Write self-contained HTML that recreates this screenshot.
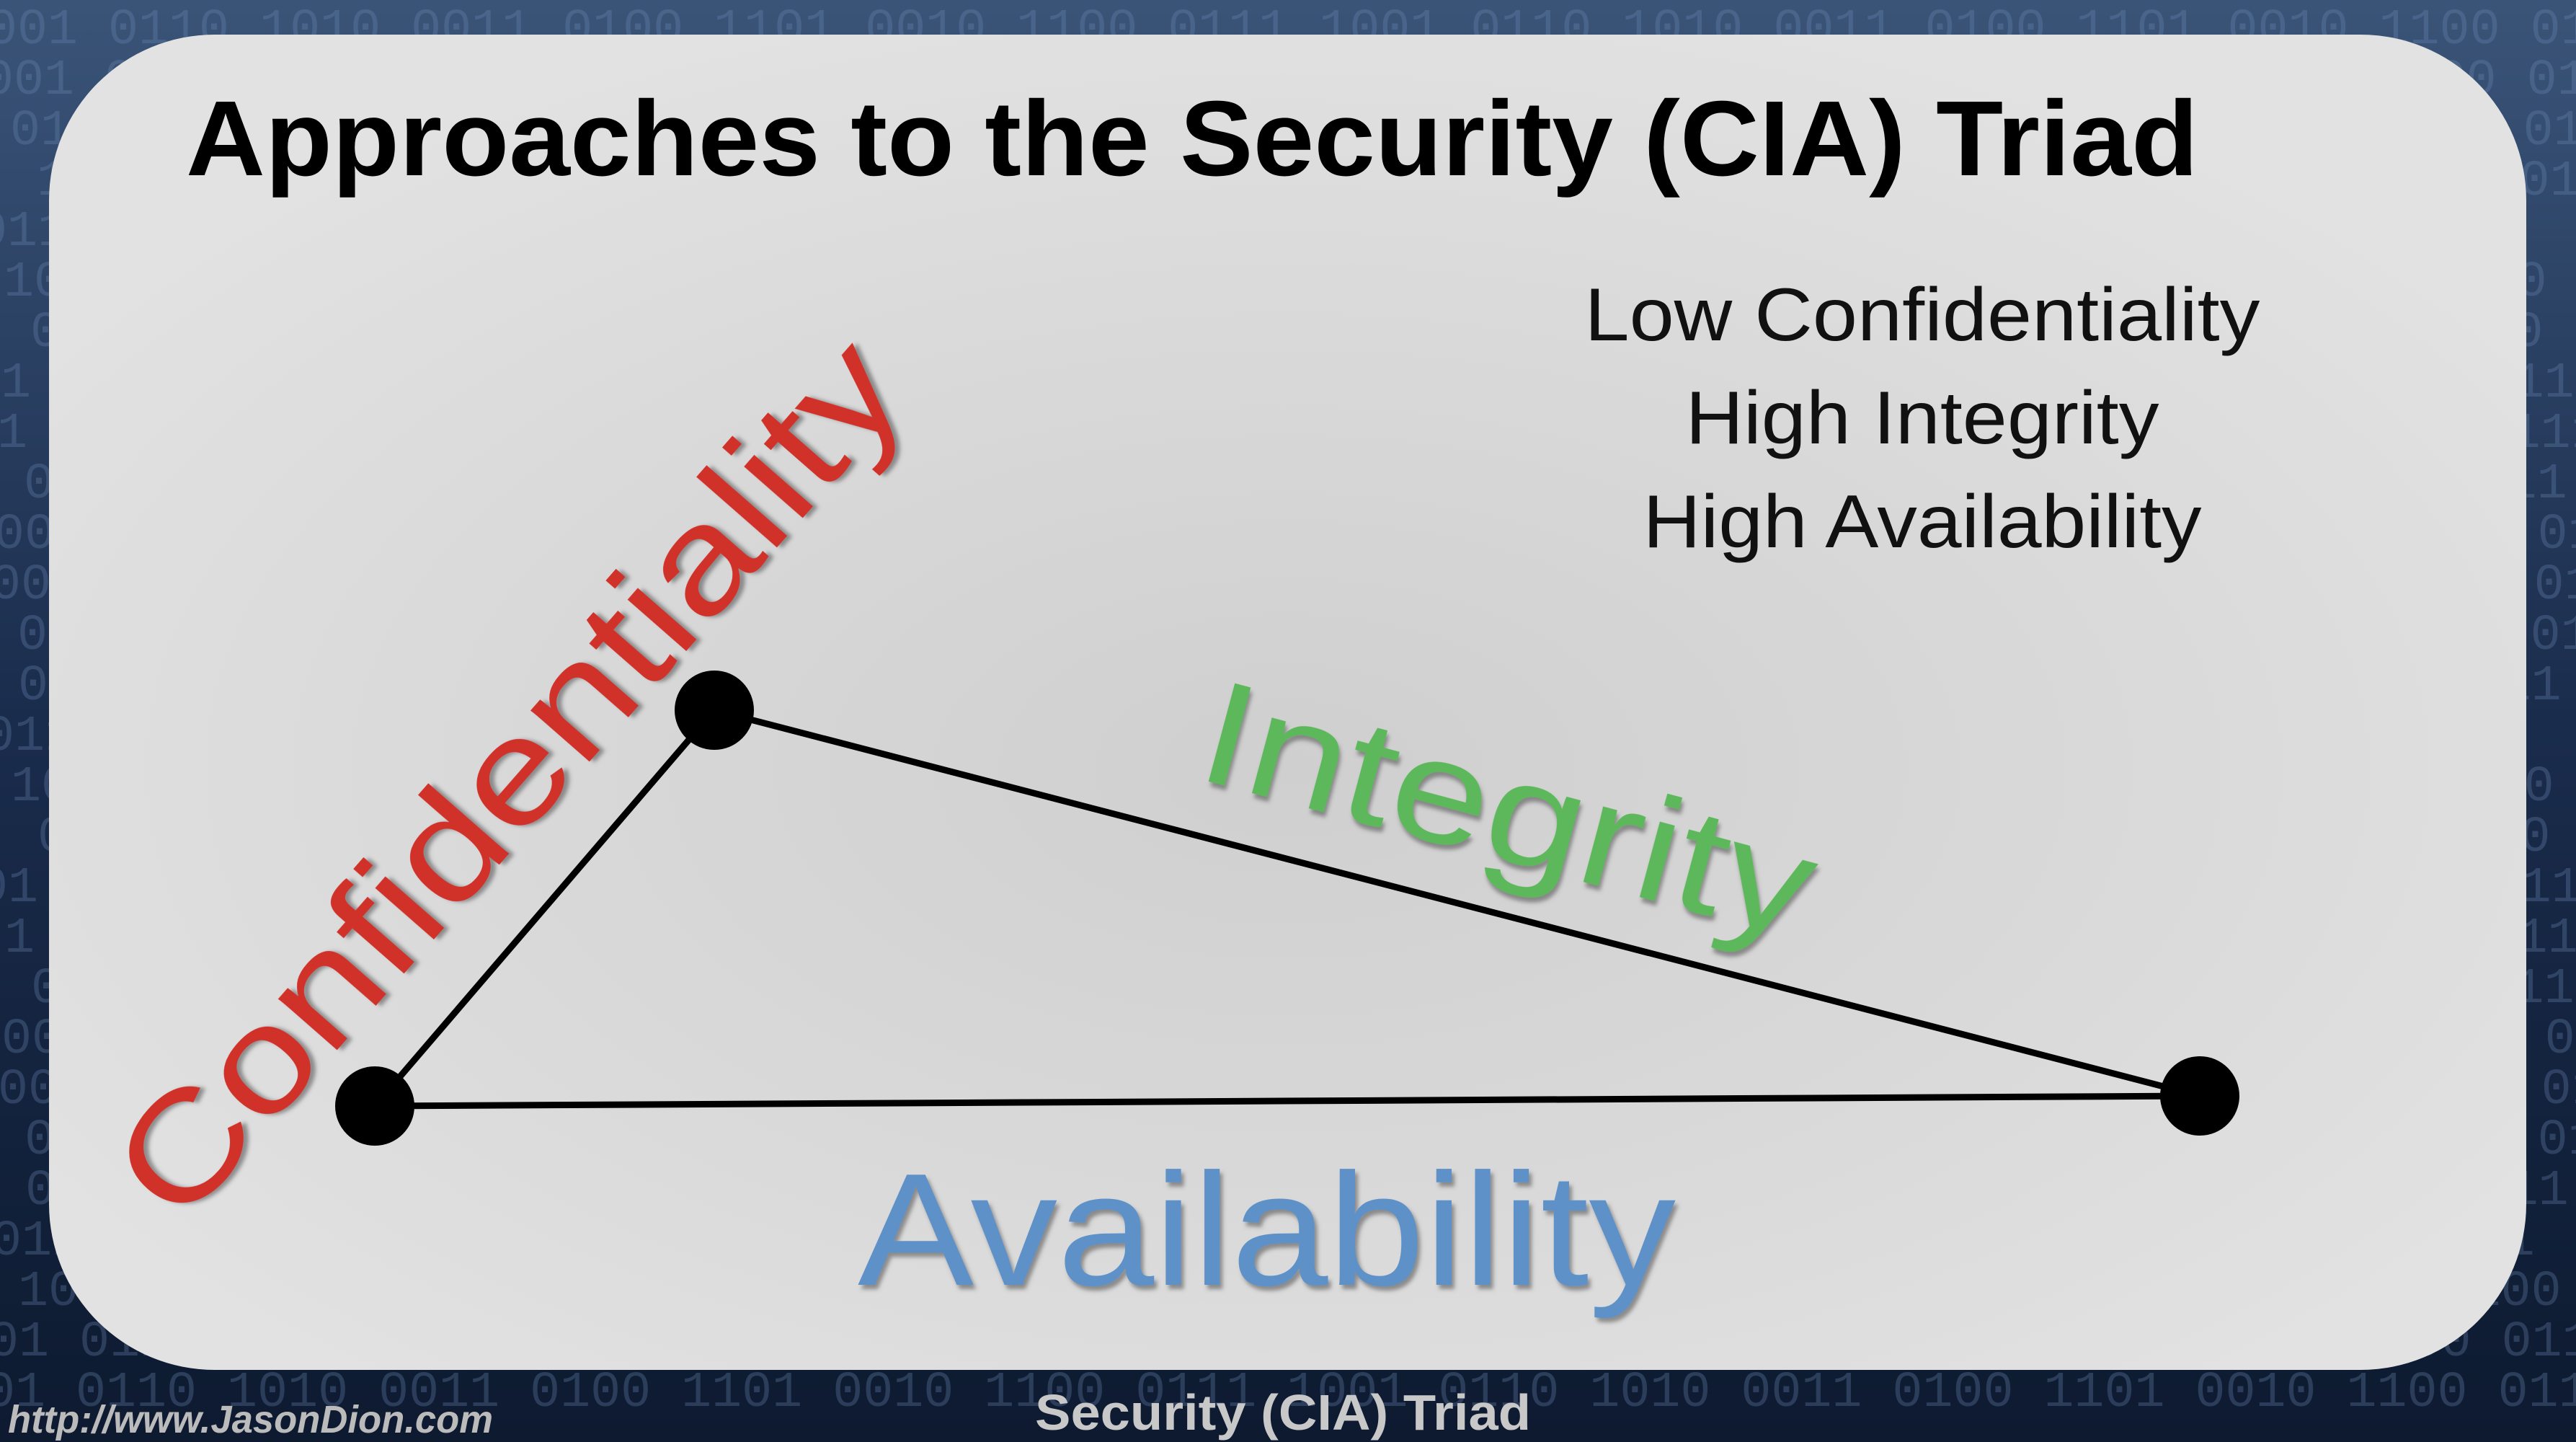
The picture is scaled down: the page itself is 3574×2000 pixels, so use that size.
<!DOCTYPE html>
<html><head><meta charset="utf-8"><style>
html,body{margin:0;padding:0;width:3574px;height:2000px;overflow:hidden;background:#0f1c33}
svg{display:block}
</style></head><body>
<svg width="3574" height="2000" viewBox="0 0 3574 2000">
<defs>
<linearGradient id="bg" x1="0" y1="0" x2="0" y2="1"><stop offset="0" stop-color="#3a5478"/><stop offset="0.5" stop-color="#1a2c4c"/><stop offset="1" stop-color="#0d1a30"/></linearGradient>
<radialGradient id="panelg" cx="0.5" cy="0.55" r="0.6"><stop offset="0" stop-color="#cfcfcf"/><stop offset="0.6" stop-color="#dadada"/><stop offset="1" stop-color="#e2e2e2"/></radialGradient>
<filter id="sh"><feDropShadow dx="4" dy="6" stdDeviation="3" flood-color="#555" flood-opacity="0.6"/></filter>
<clipPath id="clipall"><rect width="3574" height="2000"/></clipPath>
</defs>
<rect width="3574" height="2000" fill="url(#bg)"/>
<g id="binary" clip-path="url(#clipall)" fill="#6f8cb8" opacity="0.3" font-family="Liberation Mono, monospace" font-size="70"></g>
<rect x="68" y="48" width="3437" height="1852" rx="230" ry="230" fill="url(#panelg)"/>
<text x="258" y="243" font-family="Liberation Sans, sans-serif" font-weight="bold" font-size="148" textLength="2792" lengthAdjust="spacingAndGlyphs" fill="#000">Approaches to the Security (CIA) Triad</text>
<g font-family="Liberation Sans, sans-serif" font-size="104" fill="#111" text-anchor="middle">
<text x="2667" y="472" textLength="937" lengthAdjust="spacingAndGlyphs">Low Confidentiality</text>
<text x="2667" y="615" textLength="657" lengthAdjust="spacingAndGlyphs">High Integrity</text>
<text x="2667" y="759" textLength="775" lengthAdjust="spacingAndGlyphs">High Availability</text>
</g>
<g id="triad"></g>
<text transform="translate(250,1705) rotate(-48.8)" font-family="Liberation Sans, sans-serif" font-size="205" fill="#d0302a" textLength="1540" lengthAdjust="spacingAndGlyphs" filter="url(#sh)">Confidentiality</text>
<text transform="translate(1655,1078) rotate(15)" font-family="Liberation Sans, sans-serif" font-size="205" fill="#5cb85a" textLength="870" lengthAdjust="spacingAndGlyphs" filter="url(#sh)">Integrity</text>
<text x="1190" y="1782" font-family="Liberation Sans, sans-serif" font-size="222" fill="#5f91c9" textLength="1135" lengthAdjust="spacingAndGlyphs" filter="url(#sh)">Availability</text>
<text x="1436" y="1983" font-family="Liberation Sans, sans-serif" font-weight="bold" font-size="70" fill="#c8c8c8" textLength="688" lengthAdjust="spacingAndGlyphs">Security (CIA) Triad</text>
<text x="11" y="1987" font-family="Liberation Sans, sans-serif" font-weight="bold" font-style="italic" font-size="54" fill="#bbbbbb" textLength="673" lengthAdjust="spacingAndGlyphs">http://www.JasonDion.com</text>
</svg>
<script>
const vertexNames = ['confidentiality','availability','integrity'];
const vertexX = [991, 520, 3052];
const vertexY = [985, 1534, 1520];
const NS='http://www.w3.org/2000/svg';
const g=document.getElementById('triad');
for(let i=0;i<3;i++){
  const j=(i+1)%3;
  const l=document.createElementNS(NS,'line');
  l.setAttribute('x1',vertexX[i]);l.setAttribute('y1',vertexY[i]);
  l.setAttribute('x2',vertexX[j]);l.setAttribute('y2',vertexY[j]);
  l.setAttribute('stroke','#000');l.setAttribute('stroke-width','9');
  
  
  g.appendChild(l);
}
for(let i=0;i<3;i++){
  const c=document.createElementNS(NS,'circle');
  c.setAttribute('cx',vertexX[i]);c.setAttribute('cy',vertexY[i]);c.setAttribute('r','55');
  c.setAttribute('fill','#000');
  
  
  g.appendChild(c);
}
const b=document.getElementById('binary');
const seq='1001 0110 1010 0011 0100 1101 0010 1100 0111 1001 0110 1010 0011 0100 1101 0010 1100 0111';
for(let r=0;r<28;r++){
  const t=document.createElementNS(NS,'text');
  t.setAttribute('x', (r*37)%120 - 60);
  t.setAttribute('y', 60+r*70);
  t.textContent=seq.slice(r%5, 90);
  
  
  b.appendChild(t);
}
</script>
</body></html>
